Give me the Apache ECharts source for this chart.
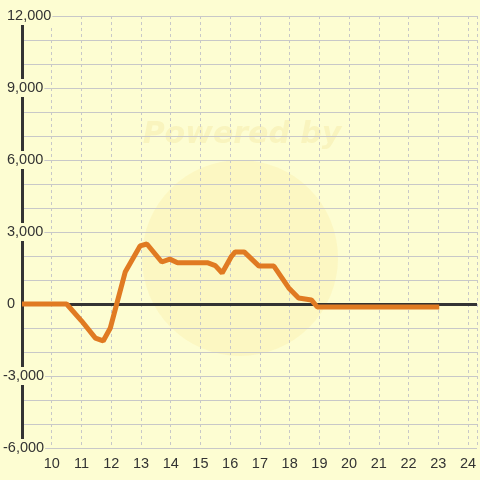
<!DOCTYPE html>
<html><head><meta charset="utf-8">
<script src="https://cdn.jsdelivr.net/npm/echarts@6/dist/echarts.min.js"></script>
<style>html,body{margin:0;padding:0;background:#fdfdd2}#c{width:480px;height:480px}</style>
</head><body><div id="c"></div>
<script>
const xValues = [9, 10.5, 11, 11.47, 11.73, 11.97, 12.47, 12.97, 13.2, 13.7, 13.97, 14.23, 15.23, 15.5, 15.73, 16.03, 16.17, 16.47, 16.97, 17.47, 17.97, 18.3, 18.73, 18.93, 23.03];
const yValues = [0, 0, -700, -1420, -1540, -1000, 1330, 2420, 2500, 1750, 1870, 1720, 1720, 1600, 1290, 1960, 2170, 2170, 1580, 1580, 670, 250, 170, -125, -125];
const xTicks = [10, 11, 12, 13, 14, 15, 16, 17, 18, 19, 20, 21, 22, 23, 24];
const yTickLabels = [-6000, -3000, 0, 3000, 6000, 9000, 12000];

const chart = echarts.init(document.getElementById('c'));
const data = xValues.map((x, i) => [x, yValues[i]]);
const fmt = v => v.toLocaleString('en-US');
const BG = '#fdfdd2';
chart.setOption({
  backgroundColor: BG,
  animation: false,
  grid: {left: 21, right: 0, top: 16, bottom: 32},
  graphic: [
    {type: 'circle', shape: {cx: 240, cy: 258, r: 98}, style: {fill: 'rgba(250,220,110,0.16)'}, z: -10},
    {type: 'text', x: 242, y: 135, style: {text: 'Powered by', font: 'italic bold 30px "DejaVu Sans"', fill: 'rgba(235,215,120,0.22)', textAlign: 'center', textVerticalAlign: 'middle'}, z: -10}
  ],
  xAxis: {
    type: 'value', min: 9, max: 24.3, interval: 1,
    axisLine: {show: false}, axisTick: {show: false},
    axisLabel: {color: '#333', fontSize: 14.5, fontFamily: 'Liberation Sans', margin: 8,
      formatter: v => xTicks.includes(v) ? String(v) : ''},
    splitLine: {show: true, lineStyle: {color: '#c8c8c8', type: [3, 3], width: 1}}
  },
  yAxis: [{
    type: 'value', min: -6000, max: 12000, interval: 1000, z: 0,
    axisLine: {show: true, lineStyle: {color: '#333', width: 3}},
    axisTick: {show: false},
    axisLabel: {show: false},
    splitLine: {show: true, lineStyle: {color: '#c8c8c8', width: 1}}
  }, {
    type: 'value', min: -6000, max: 12000, interval: 3000, z: 4, position: 'left',
    axisLine: {show: false}, axisTick: {show: false}, splitLine: {show: false},
    axisLabel: {margin: 19, align: 'left', color: '#333', fontSize: 14.5, fontFamily: 'Liberation Sans',
      backgroundColor: BG, padding: [2, 1, 1, 0],
      formatter: v => yTickLabels.includes(v) ? (v < 0 ? fmt(v) : ' ' + fmt(v)) : ''}
  }],
  series: [{
    type: 'line', data: data, showSymbol: false, yAxisIndex: 0,
    lineStyle: {color: '#e07a22', width: 5}, itemStyle: {color: '#e07a22'},
    z: 5,
    markLine: {silent: true, symbol: 'none', label: {show: false},
      lineStyle: {color: '#333', width: 3, type: 'solid'}, data: [{yAxis: 0}], z: 3}
  }]
});
</script></body></html>
